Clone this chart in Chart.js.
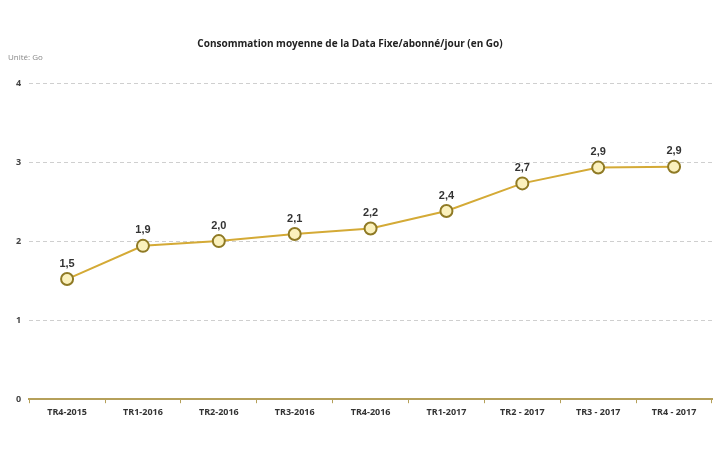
<!DOCTYPE html>
<html>
<head>
<meta charset="utf-8">
<script src="https://cdn.jsdelivr.net/npm/chart.js@4/dist/chart.umd.min.js"></script>
<style>
  html, body { margin: 0; padding: 0; background: #fff; }
  #wrap { width: 720px; height: 449px; position: relative; }
</style>
</head>
<body>
<div id="wrap"><canvas id="conso" width="720" height="449"></canvas></div>
<script>
// Données
const trimestres = ['TR4-2015', 'TR1-2016', 'TR2-2016', 'TR3-2016', 'TR4-2016', 'TR1-2017', 'TR2 - 2017', 'TR3 - 2017', 'TR4 - 2017'];
const consoMoyenne = [1.52, 1.94, 2.0, 2.09, 2.16, 2.38, 2.73, 2.93, 2.94];
const yTicks = [0, 1, 2, 3, 4];
const titre = 'Consommation moyenne de la Data Fixe/abonné/jour (en Go)';
const unite = 'Unité: Go';

// Étiquettes de valeur au-dessus des points + titre et unité
const etiquettesPlugin = {
    id: 'etiquettes',
    afterDatasetsDraw(chart) {
        const ctx = chart.ctx;
        const meta = chart.getDatasetMeta(0);
        ctx.save();
        ctx.font = 'bold 11px "Liberation Sans", Arial, sans-serif';
        ctx.fillStyle = '#333';
        ctx.textAlign = 'center';
        ctx.textBaseline = 'bottom';
        meta.data.forEach((pt, i) => {
            const v = chart.data.datasets[0].data[i];
            ctx.fillText(v.toFixed(1).replace('.', ','), pt.x, pt.y - 10);
        });
        ctx.font = 'bold 10px "Open Sans", sans-serif';
        ctx.fillStyle = '#222';
        ctx.textBaseline = 'middle';
        ctx.fillText(titre, 350, 44);
        ctx.font = '8px "Open Sans", sans-serif';
        ctx.fillStyle = '#888';
        ctx.textAlign = 'left';
        ctx.fillText(unite, 8, 58);
        ctx.restore();
    }
};

new Chart(document.getElementById('conso').getContext('2d'), {
    type: 'line',
    data: {
        labels: trimestres,
        datasets: [{
            data: consoMoyenne,
            borderColor: '#d4aa36',
            borderWidth: 2,
            pointRadius: 6,
            pointHoverRadius: 6,
            pointBorderWidth: 2,
            pointBorderColor: '#8f7a25',
            pointBackgroundColor: '#fbf1bd',
            tension: 0
        }]
    },
    options: {
        responsive: false,
        animation: false,
        layout: { padding: { top: 83, left: 8, right: 0, bottom: 27 } },
        plugins: { legend: { display: false }, tooltip: { enabled: false } },
        scales: {
            y: {
                min: 0,
                max: 4,
                afterBuildTicks: axis => { axis.ticks = yTicks.map(v => ({ value: v })); },
                border: { display: false, dash: [4, 3] },
                grid: { color: '#cfcfcf', tickLength: 0 },
                ticks: { color: '#444', padding: 8, font: { size: 9, weight: 'bold', family: '"Open Sans", sans-serif' } }
            },
            x: {
                offset: true,
                border: { color: '#b5a05a', width: 2 },
                grid: { display: true, drawOnChartArea: false, tickLength: 4, color: '#b5a05a', offset: true },
                ticks: { color: '#333', padding: 4, maxRotation: 0, autoSkip: false, font: { size: 9, weight: 'bold', family: '"Open Sans", sans-serif' } }
            }
        }
    },
    plugins: [etiquettesPlugin]
});
</script>
</body>
</html>
